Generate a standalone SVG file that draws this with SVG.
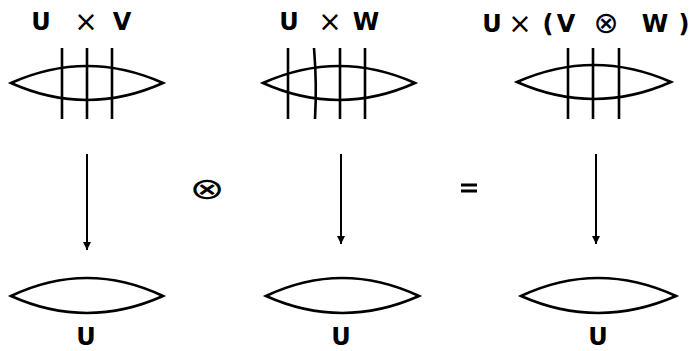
<svg xmlns="http://www.w3.org/2000/svg" width="692" height="351" viewBox="0 0 692 351">
<style>
.s{fill:none;stroke:#000;stroke-width:2.6;stroke-linecap:butt}
.b{font-family:"DejaVu Sans",sans-serif;font-weight:bold;font-size:24px;fill:#000;text-anchor:middle}
.t{font-family:"DejaVu Sans",sans-serif;font-weight:normal;font-size:28px;fill:#000;text-anchor:middle}
.a{fill:none;stroke:#000;stroke-width:2}
</style>
<defs>
<marker id="ah" markerWidth="8" markerHeight="8" refX="8" refY="4" orient="auto" markerUnits="userSpaceOnUse" viewBox="0 0 8 8">
<path d="M0,0 L8,4 L0,8 Z" fill="#000"/>
</marker>
</defs>
<rect width="692" height="351" fill="#fff"/>

<g id="top1">
<text class="b" x="41" y="30">U</text>
<text class="t" x="86" y="31">×</text>
<text class="b" x="122" y="30">V</text>
<path class="s" d="M11,83 Q87,49 163,83 Q87,117 11,83 Z"/>
<path class="s" d="M62,48 V119 M87,48 V119 M112,48 V119"/>
</g>

<g id="top2">
<text class="b" x="289" y="30">U</text>
<text class="t" x="330" y="31">×</text>
<text class="b" x="366" y="30">W</text>
<path class="s" d="M263,83 Q339,49 415,83 Q339,117 263,83 Z"/>
<path class="s" d="M288,48 V119 M314,48 Q317,84 315,119 M340,48 V119 M365,48 V119"/>
</g>

<g id="top3">
<text class="b" x="492" y="32">U</text>
<text class="t" x="520" y="33">×</text>
<text class="b" x="548" y="32">(</text>
<text class="b" x="566" y="32">V</text>
<text class="t" x="606" y="33" style="font-size:30px">⊗</text>
<text class="b" x="655" y="32">W</text>
<text class="b" x="684" y="32">)</text>
<path class="s" d="M517,82 Q594,48 671,82 Q594,116 517,82 Z"/>
<path class="s" d="M568,48 V119 M593,48 V119 M619,48 V119"/>
</g>

<g id="connectors">
<line class="a" x1="87" y1="154" x2="87" y2="250" marker-end="url(#ah)"/>
<line class="a" x1="341" y1="154" x2="341" y2="244" marker-end="url(#ah)"/>
<line class="a" x1="596" y1="154" x2="596" y2="244" marker-end="url(#ah)"/>
</g>

<g id="op-tensor">
<text x="207" y="199" style="font-family:'DejaVu Sans',sans-serif;font-size:30px;text-anchor:middle" transform="translate(207,0) scale(1.4,1) translate(-207,0)">⊗</text>
</g>
<g id="op-equals">
<path d="M461,185 H477 M461,191 H477" stroke="#000" stroke-width="3" fill="none"/>
</g>

<g id="bottom1">
<path class="s" d="M11,296 Q87,260 163,296 Q87,330 11,296 Z"/>
<text class="b" x="86" y="345">U</text>
</g>
<g id="bottom2">
<path class="s" d="M266,296 Q342,260 419,296 Q342,330 266,296 Z"/>
<text class="b" x="341" y="345">U</text>
</g>
<g id="bottom3">
<path class="s" d="M521,296 Q598,260 676,296 Q598,330 521,296 Z"/>
<text class="b" x="598" y="345">U</text>
</g>
</svg>
